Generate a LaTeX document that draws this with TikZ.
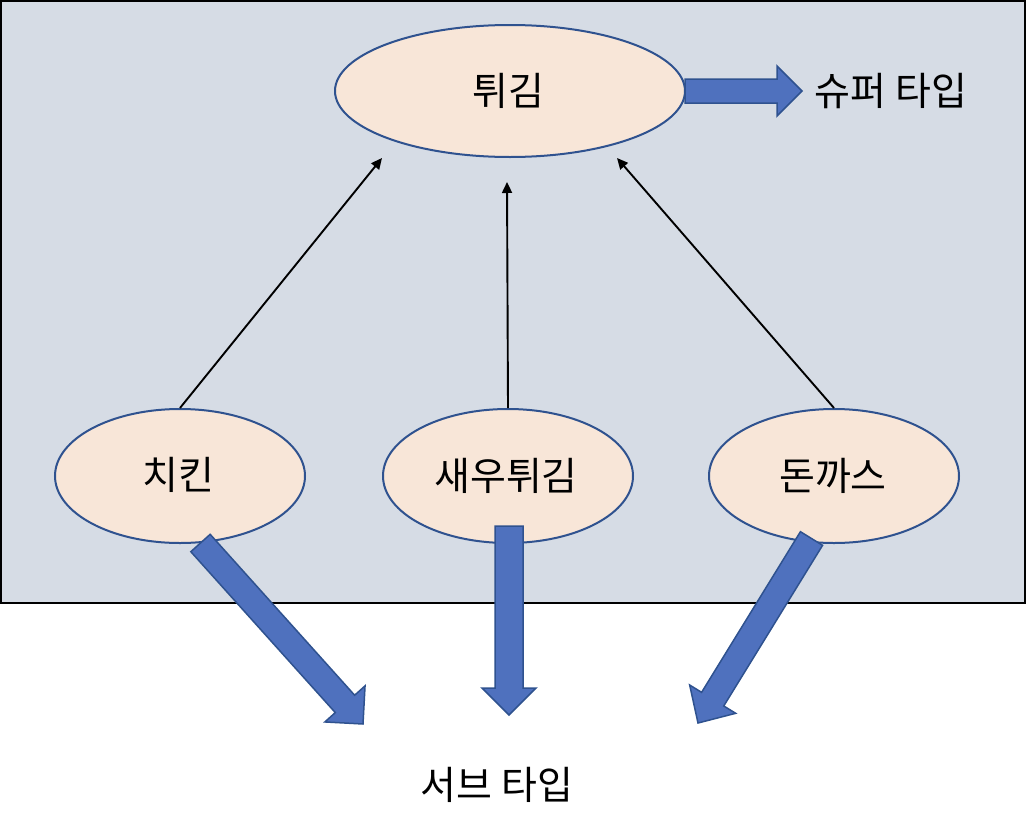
\documentclass[tikz,border=0pt]{standalone}
\usepackage{fontspec}
\newfontfamily\kfont{Noto Sans CJK KR}
\usetikzlibrary{calc,arrows.meta,shapes.geometric}
\definecolor{bgpanel}{HTML}{D6DCE5}
\definecolor{ellfill}{HTML}{F8E6D8}
\definecolor{ellline}{HTML}{2F528F}
\definecolor{arrfill}{HTML}{4F71BE}
\tikzset{
  x=1pt,y=-1pt,
  ell/.style={ellipse, draw=ellline, line width=2pt, fill=ellfill, inner sep=0pt},
  lbl/.style={font=\kfont\fontsize{39}{44}\selectfont, text=black},
  thinarr/.style={draw=black, line width=1.9pt, -{Triangle[length=11pt,width=10pt]}},
  barrow/.style={fill=arrfill, draw=ellline, line width=1.5pt, line join=miter},
}
% #1 start, #2 end, #3 shaft width/2, #4 head width/2, #5 head length
\newcommand\blockarr[5]{%
  \coordinate (bh) at ($(#2)!#5!(#1)$);
  \path[barrow] ($(#1)!#3!90:(#2)$) -- ($(bh)!#3!-90:(#1)$) -- ($(bh)!#4!-90:(#1)$)
    -- (#2) -- ($(bh)!#4!90:(#1)$) -- ($(bh)!#3!90:(#1)$) -- ($(#1)!#3!-90:(#2)$) -- cycle;
}
\begin{document}
\begin{tikzpicture}
\useasboundingbox (0,0) rectangle (1026,830);
\fill[white] (0,0) rectangle (1026,830);
\draw[fill=bgpanel, line width=2pt] (1,1) rectangle (1025,603);

\node[ell, minimum width=350pt, minimum height=132pt] (fry) at (510,91) {};
\node[ell, minimum width=250pt, minimum height=134pt] (chk) at (180,476) {};
\node[ell, minimum width=250pt, minimum height=134pt] (shr) at (508,476) {};
\node[ell, minimum width=250pt, minimum height=134pt] (pork) at (834,476) {};

\node[lbl] at (508,91) {튀김};
\node[lbl] at (178,475) {치킨};
\node[lbl] at (506,476) {새우튀김};
\node[lbl] at (833,476) {돈까스};
\node[lbl] (super) at (891,91) {슈퍼 타입};
\node[lbl] (sub) at (497,785) {서브 타입};

\coordinate (t1) at (382,158);
\coordinate (t2) at (507,182);
\coordinate (t3) at (617,158);
\draw[thinarr] (chk.north) -- (t1);
\draw[thinarr] (shr.north) -- (t2);
\draw[thinarr] (pork.north) -- (t3);

\coordinate (rs) at (685,91);
\coordinate (re) at (802,91);
\blockarr{rs}{re}{12pt}{25pt}{25pt}
\coordinate (ms) at (509,526);
\coordinate (me) at (509,715);
\blockarr{ms}{me}{14pt}{27pt}{27pt}
\coordinate (ls) at (200.5,543);
\coordinate (le) at (363,724);
\blockarr{ls}{le}{13pt}{27pt}{27pt}
\coordinate (ps) at (811.5,538.5);
\coordinate (pe) at (698,723);
\blockarr{ps}{pe}{13pt}{27pt}{28pt}
\end{tikzpicture}
\end{document}
